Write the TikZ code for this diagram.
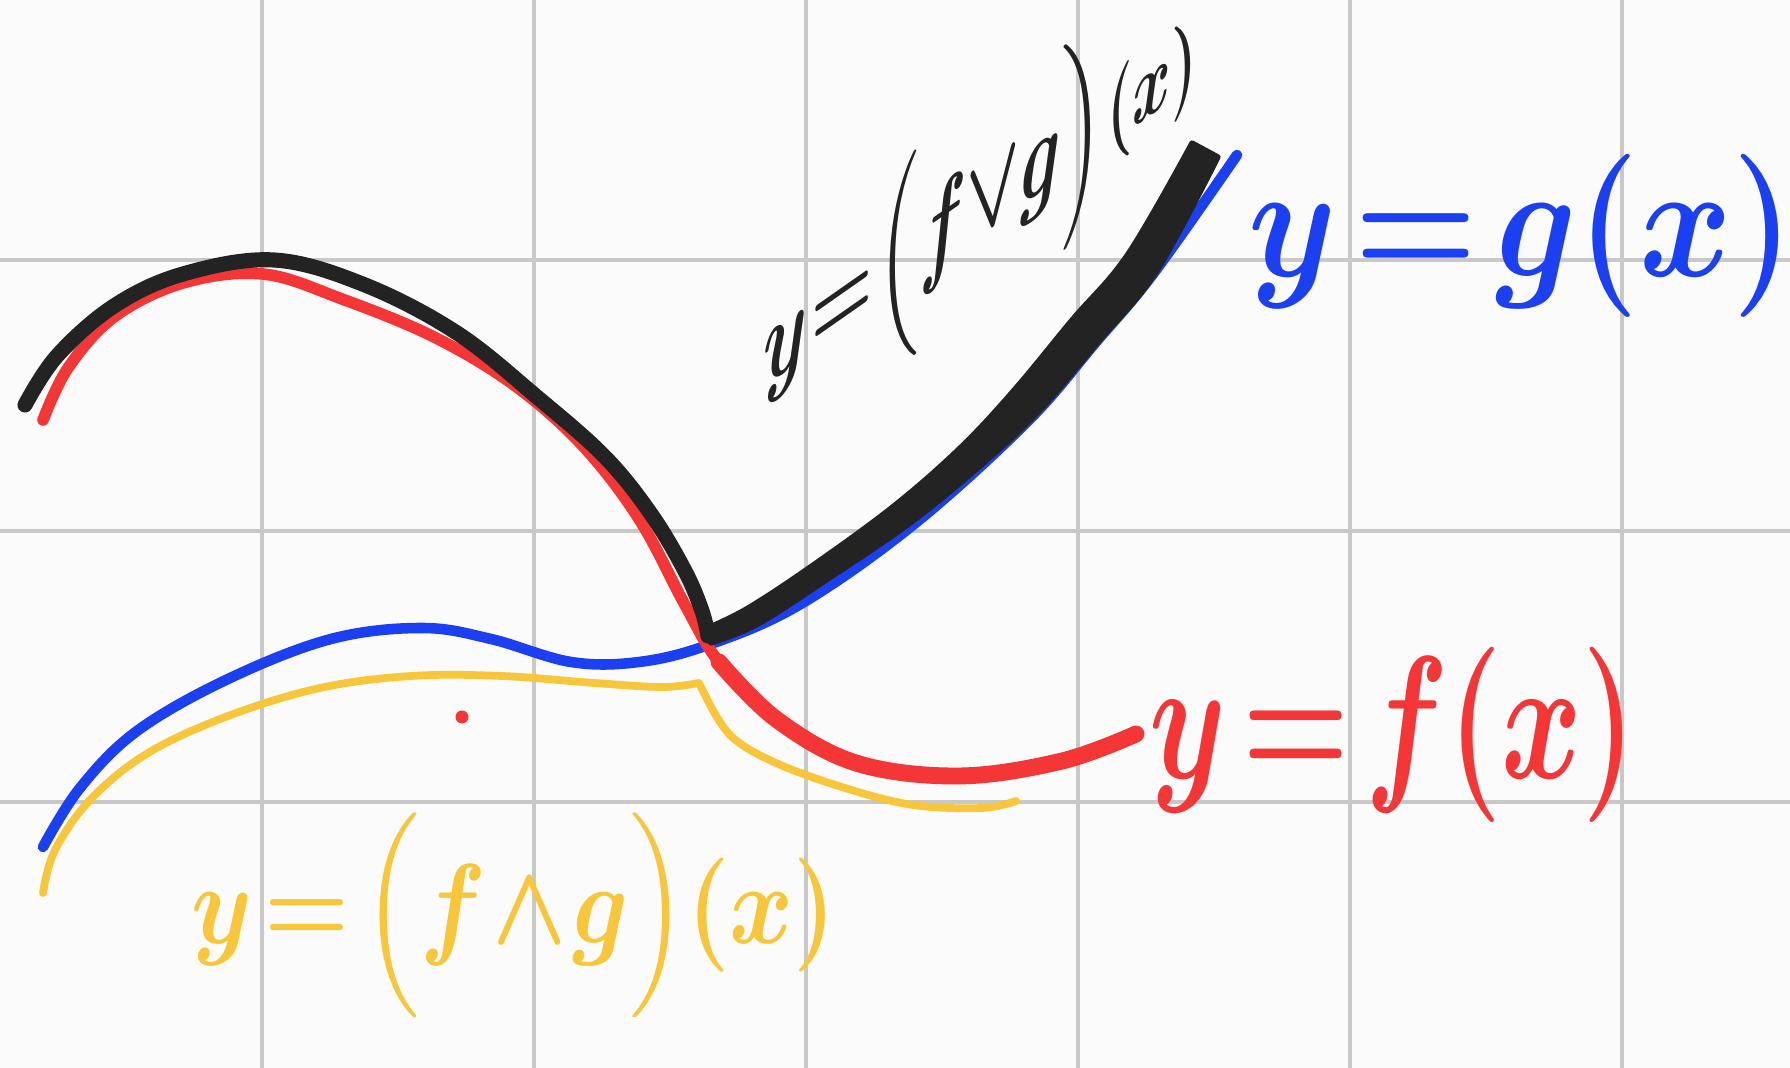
\documentclass[tikz,border=0pt]{standalone}
\usepackage{amsmath}
\usepackage{graphicx}
\usetikzlibrary{positioning}
\definecolor{paper}{HTML}{FBFBFB}
\definecolor{gridgray}{HTML}{C8C8C8}
\definecolor{penblue}{HTML}{1A40F2}
\definecolor{penred}{HTML}{F53636}
\definecolor{penyellow}{HTML}{F7C63B}
\definecolor{penblack}{HTML}{232323}
\tikzset{
  gridline/.style={
    draw=gridgray, line width=1.1pt
  },
  pen/.style={
    draw=#1, line cap=round, line join=round
  },
  pen/.default=penblack,
  penlabel/.style={
    text=#1, inner sep=0pt, font=\Huge\boldmath
  },
  penlabel/.default=penblack,
}

\begin{document}
\begin{tikzpicture}[x=0.01cm, y=-0.01cm]
  \fill[paper] (0,0) rectangle (1790,1068);
  \useasboundingbox (0,0) rectangle (1790,1068);

  % grid paper
  \foreach \gx in {262,534,806,1078,1350,1622}
    \draw[gridline] (\gx,0) -- (\gx,1068);
  \foreach \gy in {260,531,802}
    \draw[gridline] (0,\gy) -- (1790,\gy);

  % min curve
  \draw[pen=penyellow, line width=2.2pt]
    plot[smooth, tension=0.6] coordinates {(43,893) (55,850) (91,799) (148,753) (228,716)
      (320,688) (411,676) (502,676) (594,683) (662,687) (699,683)}
    -- plot[smooth, tension=0.6] coordinates {(706,697) (731,736) (776,763) (845,788)
      (913,805) (982,808) (1016,801)};

  % g
  \draw[pen=penblue, line width=3pt]
    plot[smooth, tension=0.6] coordinates {(43,847) (80,788) (137,731) (228,679) (331,639)
      (422,628) (491,639) (571,662) (639,662) (708,645) (799,605) (913,525) (1027,422)
      (1096,342) (1153,274) (1237,155)};

  % f
  \draw[pen=penred, line width=3.3pt]
    plot[smooth, tension=0.6] coordinates {(43,420) (68,368) (114,317) (183,283) (263,274)
      (342,299) (434,337) (514,385) (582,445) (639,519) (685,605) (719,662) (776,719)};
  \fill[penred] (462,717) circle[radius=0.065cm];

  % max curve
  \draw[pen, line width=4.3pt]
    plot[smooth, tension=0.6] coordinates {(25,405) (57,356) (114,306) (183,274) (274,260)
      (365,285) (457,333) (537,397) (605,457) (651,514) (685,571) (702,611) (708,636)};
  \filldraw[penblack, line width=1.5pt, line join=round]
    plot[smooth, tension=0.6] coordinates {(705,629) (748,608) (816,563) (895,505)
      (961,447) (1015,389) (1072,320) (1128,254) (1192,143)}
    -- plot[smooth, tension=0.6] coordinates {(1218,157) (1156,272) (1098,342)
      (1039,411) (979,467) (909,524) (828,579) (758,624) (711,643)}
    -- cycle;

  % f, lower part
  \draw[pen=penred, line width=4.8pt]
    plot[smooth, tension=0.6] coordinates {(719,662) (776,719) (856,763) (959,776)
      (1062,761) (1136,734)};

  % labels
  \node[penlabel=penblack, yslant=0.7] (maxlabel) at (980,207)
    {\scalebox{0.8}[1.3]{$y\mkern1mu{=}\mkern1mu\Bigl(f{\vee}g\Bigr)\mkern1mu{\scriptstyle(x)}$}};
  \node[penlabel=penblue] (glabel) at (1521,236)
    {\scalebox{1.61}[1.86]{$y\mkern2mu{=}\mkern2mu g(x)$}};
  \node[penlabel=penred] (flabel) at (1393,735)
    {\scalebox{1.40}[2.0]{$y\mkern2mu{=}\mkern2mu f(x)$}};
  \node[penlabel=penyellow] (minlabel) at (514,915)
    {\scalebox{1.11}[1.3]{$y\mkern2mu{=}\mkern2mu\Bigl(f\mkern1mu{\wedge}\mkern1mu g\Bigr)(x)$}};
\end{tikzpicture}
\end{document}
